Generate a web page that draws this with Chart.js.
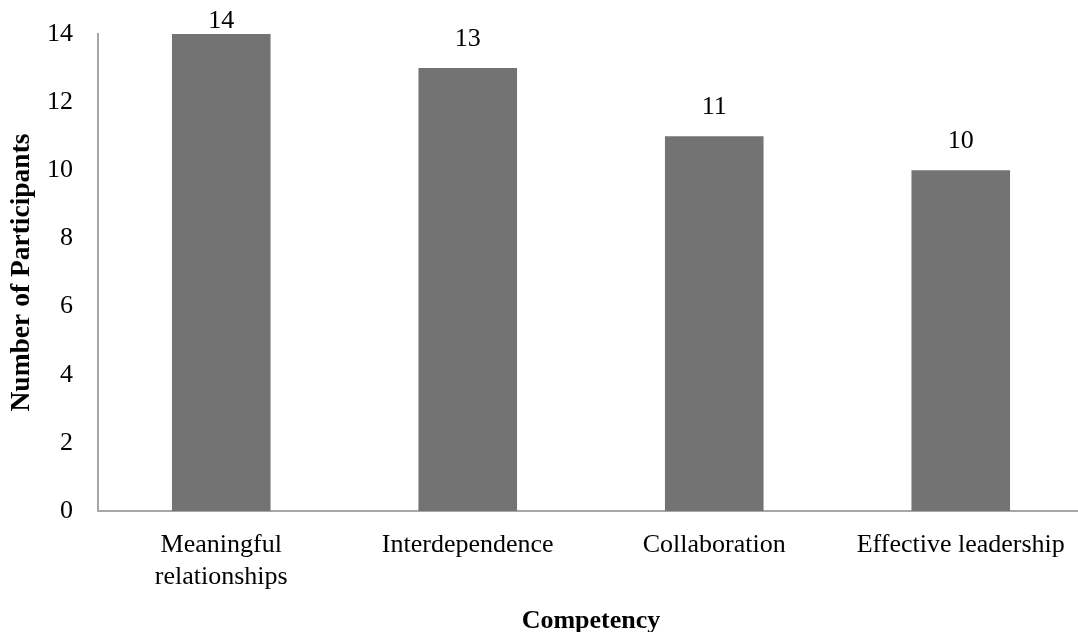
<!DOCTYPE html>
<html>
<head>
<meta charset="utf-8">
<script src="https://cdn.jsdelivr.net/npm/chart.js@4"></script>
<style>
html,body{margin:0;padding:0;background:#fff;overflow:hidden;}
#wrap{width:1084px;height:632px;}
</style>
</head>
<body>
<div id="wrap"><canvas id="c" width="1084" height="632"></canvas></div>
<script>
const categories = [["Meaningful","relationships"], "Interdependence", "Collaboration", "Effective leadership"];
const participants = [14, 13, 11, 10];
const yTicks = [0, 2, 4, 6, 8, 10, 12, 14];

const serif = "'Liberation Serif', 'Times New Roman', serif";
const numFont = {family: serif, size: 26};
const txtFont = {family: serif, size: 26, lineHeight: 1.23};

const labelPlugin = {
  id: 'barLabels',
  afterDatasetsDraw(chart) {
    const ctx = chart.ctx;
    const meta = chart.getDatasetMeta(0);
    ctx.save();
    ctx.font = numFont.size + "px " + numFont.family;
    ctx.fillStyle = "#000";
    ctx.textAlign = "center";
    ctx.textBaseline = "middle";
    meta.data.forEach((bar, i) => {
      let y = bar.y - 29;
      if (y < 21) y = 21;
      ctx.fillText(String(participants[i]), bar.x, y);
    });
    ctx.restore();
  }
};

new Chart(document.getElementById('c'), {
  type: 'bar',
  data: {
    labels: categories,
    datasets: [{
      data: participants,
      backgroundColor: '#737373',
      borderWidth: 0,
      categoryPercentage: 1.0,
      barPercentage: 0.4
    }]
  },
  options: {
    responsive: false,
    animation: false,
    layout: {padding: {top: 34, right: 0, left: 0, bottom: 0}},
    plugins: {legend: {display: false}, tooltip: {enabled: false}},
    scales: {
      x: {
        grid: {display: false, drawTicks: false},
        border: {display: true, color: '#a6a6a6', width: 2},
        ticks: {color: '#000', font: txtFont, padding: 18, maxRotation: 0, autoSkip: false},
        title: {display: true, text: 'Competency', color: '#000',
          font: {family: serif, size: 26, weight: 'bold', lineHeight: 0.8}, padding: {top: 0, bottom: 0}},
        afterFit(scale) { scale.height = 632 - 511; scale.paddingLeft = 0; scale.paddingRight = 0; }
      },
      y: {
        min: 0, max: 14,
        afterBuildTicks(scale) { scale.ticks = yTicks.map(v => ({value: v})); },
        grid: {display: false, drawTicks: false},
        border: {display: true, color: '#a6a6a6', width: 2},
        ticks: {color: '#000', font: numFont, padding: 25},
        title: {display: true, text: 'Number of Participants', color: '#000',
          font: {family: serif, size: 27.5, weight: 'bold'}, padding: {top: 5, bottom: 0}},
        afterFit(scale) { scale.width = 98; scale.paddingTop = 0; scale.paddingBottom = 0; }
      }
    }
  },
  plugins: [labelPlugin]
});
</script>
</body>
</html>
